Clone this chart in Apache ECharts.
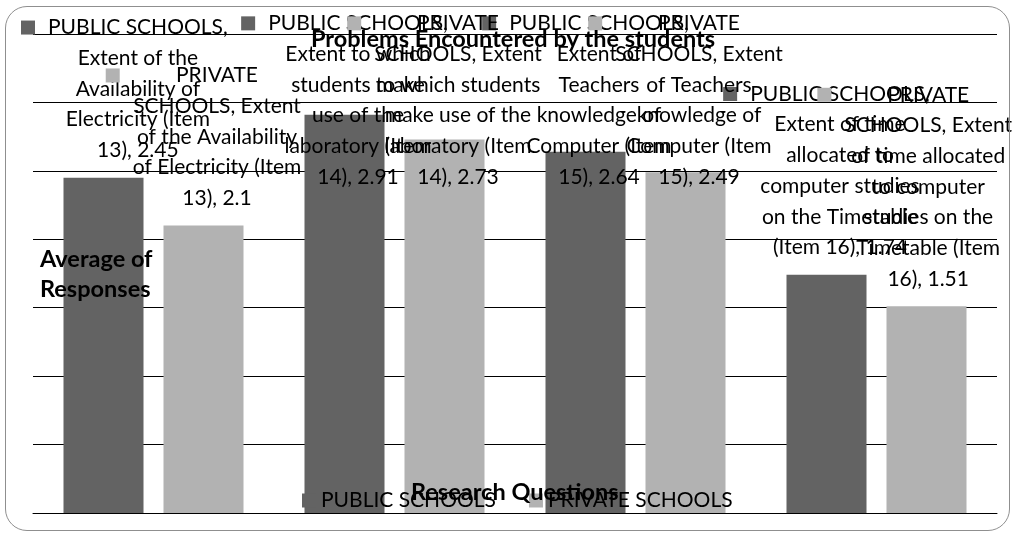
<!DOCTYPE html>
<html>
<head>
<meta charset="utf-8">
<script src="https://cdn.jsdelivr.net/npm/echarts@6/dist/echarts.min.js"></script>
<style>
  html, body { margin: 0; padding: 0; background: #fff; }
  #wrap { position: relative; width: 1013px; height: 536px; }
  #chart { position: absolute; left: 0; top: 0; width: 1013px; height: 536px; }
  #frame {
    position: absolute; left: 5px; top: 6px; width: 1003px; height: 523px;
    border: 1.5px solid #8f8f8f; border-radius: 22px; pointer-events: none;
  }
</style>
</head>
<body>
<div id="wrap">
  <div id="chart"></div>
  <div id="frame"></div>
</div>
<script>
// Research questions (items 13-16)
const categories = [
  'Extent of the Availability of Electricity (Item 13)',
  'Extent to which students make use of the laboratory (Item 14)',
  'Extent of Teachers knowledge of Computer (Item 15)',
  'Extent of time allocated to computer studies on the Timetable (Item 16)'
];
const seriesNames = ['PUBLIC SCHOOLS', 'PRIVATE SCHOOLS'];
// Average of responses per school type
const publicValues = [2.45, 2.91, 2.64, 1.74];
const privateValues = [2.1, 2.73, 2.49, 1.51];
const yTicks = { min: 0, max: 3.5, interval: 0.5 };

const chartTitle = 'Problems Encountered by the students';
const yAxisTitle = 'Average of\nResponses';
const xAxisTitle = 'Research Questions';

const colors = ['#636363', '#b2b2b2'];
const font = 'Lato, Carlito, "Liberation Sans", sans-serif';
const labelSize = 21;
const labelLine = 30.7;
const firstLineWidth = 181;
// wrapping width of each data label's text column, per series and item
const labelColumns = [
  [181, 152, 152, 181],
  [181, 181, 181, 168]
];

const chart = echarts.init(document.getElementById('chart'), null, { renderer: 'canvas' });

// greedy word wrap of a label string
const measureCtx = document.createElement('canvas').getContext('2d');
function wrapWords(text, columnWidth) {
  measureCtx.font = labelSize + 'px ' + font;
  const words = text.split(' ');
  const lines = [];
  let cur = '';
  words.forEach(w => {
    const trial = cur ? cur + ' ' + w : w;
    const limit = lines.length === 0 ? firstLineWidth : columnWidth;
    if (cur && measureCtx.measureText(trial).width > limit) {
      lines.push(cur);
      cur = w;
    } else {
      cur = trial;
    }
  });
  if (cur) lines.push(cur);
  return lines;
}

// data label: legend key beside the first line, text centred in its column
function labelFormatter(p) {
  const col = labelColumns[p.seriesIndex][p.dataIndex];
  const lines = wrapWords(p.seriesName + ', ' + p.name + ', ' + p.value, col);
  return lines.map((ln, i) => (i === 0 ? '{k|}{g|}' : '{s|}') + '{t|' + ln + '}').join('\n');
}

function makeSeries(name, values, color) {
  return {
    name: name,
    type: 'bar',
    data: values,
    barWidth: 80,
    barGap: '25%',
    itemStyle: { color: color },
    label: {
      show: true,
      position: 'top',
      distance: 12,
      align: 'center',
      color: '#000',
      fontFamily: font,
      fontSize: labelSize,
      lineHeight: labelLine,
      formatter: labelFormatter,
      rich: {
        k: { backgroundColor: color, width: 14, height: 14, align: 'left' },
        g: { width: 13, align: 'left' },
        s: { width: 27, align: 'left' },
        t: { fontFamily: font, fontSize: labelSize, lineHeight: labelLine, color: '#000', align: 'center' }
      }
    },
    // keep each label box inside the chart frame
    labelLayout: function (params) {
      const r = params.labelRect;
      const out = {};
      const topLimit = 8;
      const leftLimit = 21;
      const rightLimit = chart.getWidth() - 1;
      if (r.y < topLimit) out.dy = topLimit - r.y;
      if (r.x < leftLimit) out.dx = leftLimit - r.x;
      else if (r.x + r.width > rightLimit) out.dx = rightLimit - (r.x + r.width);
      return out;
    }
  };
}

const boldText = { fontFamily: font, fontSize: 23.5, fontWeight: 'bold', color: '#000' };

const option = {
  animation: false,
  color: colors,
  title: [
    { text: chartTitle, left: 306, top: 22, textStyle: boldText },
    { text: yAxisTitle, left: 35, top: 239, textStyle: Object.assign({ lineHeight: 30 }, boldText) },
    { text: xAxisTitle, left: 406, top: 475, textStyle: boldText }
  ],
  legend: {
    left: 297,
    top: 485,
    icon: 'rect',
    itemWidth: 14,
    itemHeight: 14,
    itemGap: 33,
    textStyle: { fontFamily: font, fontSize: labelSize, color: '#000' },
    data: seriesNames
  },
  grid: { left: 33, right: 16, top: 34, bottom: 23, containLabel: false },
  xAxis: {
    type: 'category',
    data: categories,
    axisLine: { lineStyle: { color: '#000', width: 1 } },
    axisTick: { show: false },
    axisLabel: { show: false }
  },
  yAxis: {
    type: 'value',
    min: yTicks.min,
    max: yTicks.max,
    interval: yTicks.interval,
    axisLine: { show: false },
    axisTick: { show: false },
    axisLabel: { show: false },
    splitLine: { lineStyle: { color: '#000', width: 1 } }
  },
  series: [
    makeSeries(seriesNames[0], publicValues, colors[0]),
    makeSeries(seriesNames[1], privateValues, colors[1])
  ]
};
chart.setOption(option);
</script>
</body>
</html>
